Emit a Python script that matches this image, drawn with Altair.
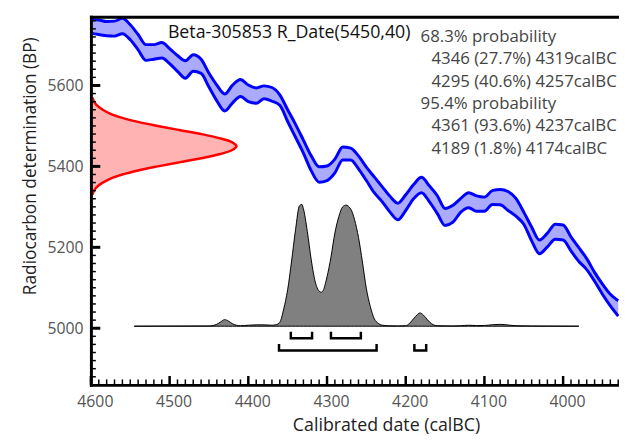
import altair as alt
import pandas as pd

FONT = "Open Sans"
W, H = 535, 373

# ---- calibration curve (IntCal band) ----
cal_years = [4600, 4590, 4580, 4570, 4560, 4550, 4540, 4530, 4520, 4510,
             4500, 4490, 4480, 4470, 4460, 4450, 4440, 4430, 4420, 4410,
             4400, 4390, 4380, 4370, 4360, 4350, 4340, 4330, 4320, 4310,
             4300, 4290, 4280, 4270, 4260, 4250, 4240, 4230, 4220, 4210,
             4200, 4190, 4180, 4170, 4160, 4150, 4140, 4130, 4120, 4110,
             4100, 4090, 4080, 4070, 4060, 4050, 4040, 4030, 4020, 4010,
             4000, 3990, 3980, 3970, 3960, 3950, 3940, 3930]
cal_upper = [5763, 5762, 5758, 5759, 5766, 5750, 5726, 5701, 5701, 5706,
             5691, 5674, 5661, 5676, 5665, 5630, 5601, 5579, 5601, 5615,
             5601, 5594, 5599, 5595, 5577, 5540, 5504, 5465, 5426, 5399,
             5401, 5418, 5448, 5445, 5426, 5398, 5374, 5350, 5326, 5309,
             5330, 5355, 5373, 5352, 5328, 5296, 5304, 5321, 5335, 5327,
             5324, 5340, 5343, 5338, 5321, 5287, 5250, 5218, 5235, 5257,
             5255, 5226, 5199, 5172, 5138, 5109, 5084, 5068]
cal_lower = [5729, 5726, 5723, 5722, 5728, 5713, 5688, 5662, 5665, 5668,
             5654, 5635, 5618, 5635, 5630, 5596, 5562, 5537, 5557, 5573,
             5560, 5556, 5567, 5561, 5551, 5511, 5472, 5433, 5389, 5361,
             5365, 5384, 5416, 5416, 5394, 5365, 5335, 5313, 5287, 5268,
             5291, 5320, 5335, 5313, 5284, 5254, 5262, 5287, 5298, 5289,
             5289, 5306, 5305, 5291, 5277, 5257, 5216, 5184, 5201, 5220,
             5218, 5191, 5165, 5145, 5116, 5084, 5055, 5030]

# ---- calibrated (posterior) distribution, relative probability ----
dist_years = [4545, 4450, 4440, 4435, 4430, 4425, 4420, 4415, 4410, 4400,
              4390, 4380, 4370, 4365, 4360, 4355, 4350, 4345, 4340, 4335,
              4332, 4330, 4325, 4320, 4315, 4310, 4307, 4305, 4300, 4295,
              4290, 4285, 4280, 4276, 4270, 4265, 4260, 4255, 4250, 4245,
              4240, 4235, 4230, 4220, 4210, 4200, 4195, 4190, 4185, 4182,
              4180, 4175, 4170, 4165, 4160, 4140, 4130, 4120, 4110, 4100,
              4090, 4080, 4070, 4060, 4040, 4020, 3980]
dist_prob = [0, 0.002, 0.016, 0.036, 0.054, 0.041, 0.02, 0.008, 0.004, 0.008,
             0.011, 0.011, 0.008, 0.012, 0.032, 0.142, 0.30, 0.535, 0.792, 0.989,
             1.0, 0.964, 0.778, 0.543, 0.365, 0.288, 0.279, 0.292, 0.405, 0.567,
             0.765, 0.9, 0.981, 0.994, 0.964, 0.875, 0.729, 0.527, 0.308, 0.162,
             0.062, 0.024, 0.008, 0.003, 0.002, 0.004, 0.024, 0.062, 0.097, 0.109,
             0.105, 0.073, 0.036, 0.012, 0.004, 0.002, 0.004, 0.008, 0.005, 0.006,
             0.012, 0.015, 0.01, 0.004, 0.002, 0.001, 0]
DIST_BASE = 5005     # BP level of the distribution's baseline
DIST_HEIGHT = 301    # BP span of the tallest peak

# ---- radiocarbon date R_Date(5450,40), drawn along the y axis ----
date_bp = [5330, 5340, 5350, 5360, 5370, 5380, 5390, 5400, 5410, 5420, 5430, 5440,
           5450, 5460, 5470, 5480, 5490, 5500, 5510, 5520, 5530, 5540, 5550, 5560, 5570]
date_width = [2, 4, 8, 15, 25, 40, 60, 85, 112, 140, 163, 179,
              185, 179, 163, 140, 112, 85, 60, 40, 25, 15, 8, 4, 2]
AXIS_START = 4600

# ---- ranges ----
range68 = [(4346, 4319), (4295, 4257)]
range95 = [(4361, 4237), (4189, 4174)]

title_text = "Beta-305853 R_Date(5450,40)"
prob_lines = ["68.3% probability",
              "4346 (27.7%) 4319calBC",
              "4295 (40.6%) 4257calBC",
              "95.4% probability",
              "4361 (93.6%) 4237calBC",
              "4189 (1.8%) 4174calBC"]
prob_indent = [False, True, True, False, True, True]

x_major = list(range(4000, 4601, 100))
x_minor = list(range(3930, 4601, 10))
y_major = [5000, 5200, 5400, 5600]
y_minor = list(range(4860, 5771, 20))

xs = alt.Scale(domain=[3929, 4600], reverse=True, nice=False, zero=False)
ys = alt.Scale(domain=[4860, 5770], nice=False, zero=False)

ax_x_main = alt.Axis(orient="bottom", values=x_major, format="d", ticks=False, grid=False,
                     domain=True, domainColor="black", domainWidth=3, domainCap="square",
                     labelFont=FONT, labelFontSize=16, labelColor="#555555", labelPadding=9,
                     labelOffset=4, labelFlush=False, labelOverlap=False,
                     title="Calibrated date (calBC)", titleFont=FONT, titleFontSize=18,
                     titleFontWeight="normal", titleColor="#222222", titleX=299, titleY=46,
                     titleAlign="center", titleBaseline="alphabetic", zindex=2)
ax_y_main = alt.Axis(orient="left", values=y_major, format="d", ticks=False, grid=False,
                     domain=True, domainColor="black", domainWidth=3, domainCap="square",
                     labelFont=FONT, labelFontSize=16, labelColor="#555555", labelPadding=8,
                     labelFlush=False, labelOverlap=False,
                     title="Radiocarbon determination (BP)", titleFont=FONT, titleFontSize=17.5,
                     titleFontWeight="normal", titleColor="#222222", titleX=-56, titleY=151,
                     titleAngle=270, titleAlign="center", titleBaseline="alphabetic", zindex=2)
ax_top_frame = alt.Axis(orient="top", values=[0], labels=False, ticks=False, grid=False,
                        domain=True, domainColor="black", domainWidth=3, domainCap="square",
                        title=None, zindex=2)

cal = pd.DataFrame({"year": cal_years, "upper": cal_upper, "lower": cal_lower})

band = alt.Chart(cal).mark_area(fill="#aaaaff", opacity=1, interpolate="monotone", clip=True).encode(
    x=alt.X("year:Q", scale=xs, axis=ax_x_main),
    y=alt.Y("upper:Q", scale=ys, axis=ax_y_main),
    y2="lower:Q",
)
up_line = alt.Chart(cal).mark_line(color="#0000ff", strokeWidth=3, interpolate="monotone", clip=True).encode(
    x=alt.X("year:Q", scale=xs, axis=None),
    y=alt.Y("upper:Q", scale=ys, axis=None),
)
lo_line = alt.Chart(cal).mark_line(color="#0000ff", strokeWidth=3, interpolate="monotone", clip=True).encode(
    x=alt.X("year:Q", scale=xs, axis=None),
    y=alt.Y("lower:Q", scale=ys, axis=None),
)

gauss = pd.DataFrame({"bp": date_bp, "w": date_width})
red_area = alt.Chart(gauss).transform_calculate(
    xv=f"{AXIS_START} - datum.w", base=f"{AXIS_START}"
).mark_area(orient="horizontal", fill="#ffb3b3", opacity=1, interpolate="catmull-rom", clip=True).encode(
    y=alt.Y("bp:Q", scale=ys, axis=None),
    x=alt.X("xv:Q", scale=xs, axis=ax_top_frame),
    x2="base:Q",
)
red_line = alt.Chart(gauss).transform_calculate(
    xv=f"{AXIS_START} - datum.w"
).mark_line(color="#ff0000", strokeWidth=2.5, interpolate="catmull-rom", clip=True).encode(
    y=alt.Y("bp:Q", scale=ys, axis=None),
    x=alt.X("xv:Q", scale=xs, axis=None),
    order="bp:Q",
)

dist = pd.DataFrame({"year": dist_years, "p": dist_prob})
dist_area = alt.Chart(dist).transform_calculate(
    top=f"{DIST_BASE} + datum.p * {DIST_HEIGHT}", base=f"{DIST_BASE}"
).mark_area(fill="#808080", stroke="black", strokeWidth=1, opacity=1, interpolate="monotone").encode(
    x=alt.X("year:Q", scale=xs, axis=None),
    y=alt.Y("top:Q", scale=ys, axis=None),
    y2="base:Q",
)

rows = []
for name, ranges, lvl, top in [("68", range68, 4975, 4988), ("95", range95, 4945, 4958)]:
    for k, (a, b) in enumerate(ranges):
        for j, (xx, yy) in enumerate([(a, top), (a, lvl), (b, lvl), (b, top)]):
            rows.append({"id": f"{name}-{k}", "seq": j, "year": xx, "bp": yy})
brackets = alt.Chart(pd.DataFrame(rows)).mark_line(
    color="black", strokeWidth=2.5, strokeJoin="miter", strokeCap="square"
).encode(
    x=alt.X("year:Q", scale=xs, axis=None),
    y=alt.Y("bp:Q", scale=ys, axis=None),
    detail="id:N",
    order="seq:Q",
)


# inward-pointing axis ticks, placed through the shared scales
def x_ticks(vals, length, width):
    return alt.Chart(pd.DataFrame({"v": vals})).mark_rule(color="black", strokeWidth=width).encode(
        x=alt.X("v:Q", scale=xs, axis=None), y=alt.value(H), y2=alt.value(H - length))


def y_ticks(vals, length, width):
    return alt.Chart(pd.DataFrame({"v": vals})).mark_rule(color="black", strokeWidth=width).encode(
        y=alt.Y("v:Q", scale=ys, axis=None), x=alt.value(0), x2=alt.value(length))


ticks = [x_ticks(x_minor, 5.5, 1.5), x_ticks(x_major, 9, 2.5),
         y_ticks(y_minor, 5, 1.5), y_ticks(y_major, 9.5, 3)]

texts = [alt.Chart(pd.DataFrame({"t": [title_text]})).mark_text(
    align="left", baseline="alphabetic", font=FONT, fontSize=18, color="#111111"
).encode(x=alt.value(78), y=alt.value(22), text="t:N")]
for i, (line, ind) in enumerate(zip(prob_lines, prob_indent)):
    texts.append(alt.Chart(pd.DataFrame({"t": [line]})).mark_text(
        align="left", baseline="alphabetic", font=FONT, fontSize=17, color="#444444"
    ).encode(x=alt.value(345 if ind else 334), y=alt.value(25.5 + 22.7 * i), text="t:N"))

chart = alt.layer(band, up_line, lo_line, red_area, red_line, dist_area, brackets,
                  *ticks, *texts).resolve_scale(
    x="shared", y="shared"
).resolve_axis(
    x="independent", y="independent"
).properties(
    width=W, height=H,
    autosize=alt.AutoSizeParams(type="none"),
    padding={"left": 84, "top": 6, "right": 0, "bottom": 50},
).configure_view(stroke=None).configure(font=FONT)

chart.save("out.html", embed_options={"renderer": "svg", "actions": False})
